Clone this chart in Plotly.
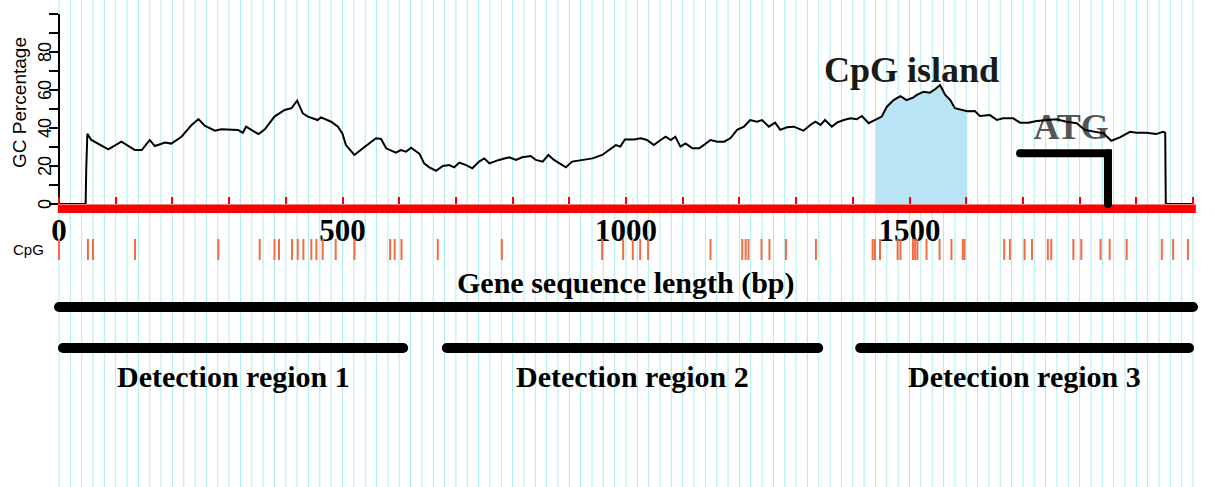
import plotly.graph_objects as go

# ---------------- data ----------------
gene_length = 2000

gc_pos = [0, 47, 48, 50, 57, 69, 87, 110, 134, 146, 160, 169, 187, 198, 216, 234, 246, 257, 275, 286,
          316, 324, 330, 345, 352, 363, 380, 398, 410, 420, 430, 439, 456, 462, 480, 492, 500, 506, 521, 536,
          548, 559, 568, 577, 594, 603, 612, 621, 636, 644, 653, 665, 677, 688, 697, 706, 718, 729, 741, 750,
          759, 776, 794, 806, 817, 832, 841, 853, 863, 873, 885, 894, 905, 923, 941, 958, 970, 982, 990, 998,
          1014, 1026, 1037, 1049, 1061, 1070, 1079, 1087, 1096, 1105, 1117, 1129, 1137, 1149, 1161, 1173, 1184, 1196, 1208, 1219,
          1231, 1240, 1252, 1263, 1272, 1284, 1296, 1313, 1325, 1334, 1343, 1351, 1363, 1372, 1384, 1396, 1407, 1416, 1428, 1441,
          1451, 1460, 1472, 1484, 1495, 1507, 1513, 1525, 1536, 1545, 1554, 1563, 1572, 1580, 1595, 1602, 1615, 1624, 1642, 1654,
          1665, 1683, 1695, 1710, 1724, 1742, 1759, 1777, 1795, 1809, 1824, 1842, 1856, 1871, 1889, 1900, 1918, 1935, 1947, 1951,
          1952, 2000]
gc_val = [0, 0, 18, 37, 33.7, 31.6, 28.8, 32.8, 28.4, 28.4, 33.7, 30.5, 32.3, 31.8, 35.4, 41.6, 44.7, 41.2, 38.6, 39.3,
          39, 37.5, 40.7, 38, 36.8, 39.3, 46, 49.5, 50.4, 54.4, 47.7, 46, 44.2, 45.6, 43.3, 40.7, 37, 31, 25.8, 29.3,
          31.9, 34.6, 34.2, 29.3, 27, 28.4, 27.5, 29.6, 26.3, 21.4, 19.3, 17.5, 20, 20.5, 19.3, 21.8, 20.5, 18.8, 22.3, 24,
          21.4, 23.2, 24.6, 23.2, 24.6, 25.3, 23.2, 22.3, 25.8, 23.2, 21, 19.3, 22.3, 23.2, 24, 25.8, 28.4, 31, 30.2, 34,
          34, 34.6, 33.7, 31, 33.7, 35.4, 33.7, 35.4, 30.2, 31.9, 29.3, 29.3, 31, 33.7, 32.8, 32.8, 34.6, 39, 40.7, 44.2,
          43.3, 44.2, 40.7, 42.8, 39, 40.4, 40.7, 38.6, 41.6, 43.3, 41.6, 44.2, 40.7, 42.8, 44.2, 45.1, 44.6, 46.3, 42.5, 44.6,
          46, 51.2, 54.7, 56.8, 54.7, 56.1, 57.4, 59.1, 58.6, 60.4, 62.6, 57.4, 54.7, 50.4, 49.5, 48.8, 49, 46.3, 46.8, 44.2,
          45.1, 45.1, 42.8, 42.8, 43.7, 44.2, 44.6, 43.3, 42.5, 39, 38, 37.2, 33.3, 35.1, 38, 37.5, 37.5, 36.8, 38, 37.5,
          0, 0]

cpg_island = [1441, 1602]
atg_pos = 1850

cpg_sites = [0, 51, 60, 134, 281, 354, 380, 388, 411, 421, 431, 445, 454, 465, 488, 521, 584, 592, 604, 668,
             781, 958, 995, 1012, 1025, 1039, 1149, 1205, 1211, 1216, 1239, 1253, 1282, 1335, 1435, 1439, 1448,
             1479, 1484, 1506, 1510, 1514, 1530, 1553, 1574, 1594, 1597, 1667, 1677, 1703, 1716, 1744, 1750,
             1789, 1803, 1837, 1853, 1883, 1945, 1965, 1991]

region_names = ["Detection region 1", "Detection region 2", "Detection region 3"]
region_start = [7, 684, 1413]
region_end = [607, 1339, 1993]

x_tick_vals = [0, 100, 200, 300, 400, 500, 600, 700, 800, 900, 1000, 1100, 1200, 1300, 1400,
               1500, 1600, 1700, 1800, 1900, 2000]
x_tick_text = ["0", "", "", "", "", "500", "", "", "", "", "1000", "", "", "", "",
               "1500", "", "", "", "", "2000"]
y_tick_vals = [0, 10, 20, 30, 40, 50, 60, 70, 80, 90, 100]
y_label_vals = [0, 20, 40, 60, 80]
y_label_text = ["0", "20", "40", "60", "80"]
grid_step = 20

# ---------------- layout geometry ----------------
W, H = 1215, 487
ML, MR = 52, 14
PX0, PXS = 59.0, 0.567          # pixel of x = 0, pixels per bp
plot_w = W - ML - MR
x_range = [(ML - PX0) / PXS, (W - MR - PX0) / PXS]


def py(p):
    return 1 - p / H


def pxp(p):
    return (p - ML) / plot_w


SERIF = "Liberation Serif"
SANS = "Liberation Sans"

fig = go.Figure()

# CpG island shading
isl_x = [p for p in gc_pos if cpg_island[0] <= p <= cpg_island[1]]
isl_y = [v for p, v in zip(gc_pos, gc_val) if cpg_island[0] <= p <= cpg_island[1]]
fig.add_trace(go.Scatter(x=isl_x, y=isl_y, mode="lines", fill="tozeroy",
                         fillcolor="#b9e4f5", line=dict(width=0), hoverinfo="skip"))

# ATG label (under the curve)
fig.add_trace(go.Scatter(x=[atg_pos - 65], y=[38.9], mode="text", text=["ATG"],
                         textfont=dict(family=SERIF, size=36, color="#555555", weight="bold"),
                         cliponaxis=False))

# GC curve
fig.add_trace(go.Scatter(x=gc_pos, y=gc_val, mode="lines",
                         line=dict(color="black", width=2)))

# ATG arrow
atg_arm = 155
atg_h = 26.7
fig.add_trace(go.Scatter(x=[atg_pos - atg_arm, atg_pos, atg_pos], y=[atg_h, atg_h, 0],
                         mode="lines+markers", line=dict(color="black", width=8),
                         marker=dict(color="black", size=8), cliponaxis=False))

# CpG sites
fig.add_trace(go.Scatter(x=cpg_sites, y=[0.5] * len(cpg_sites), yaxis="y3", mode="markers",
                         marker=dict(symbol="line-ns", size=15,
                                     line=dict(color="#f26b43", width=2)),
                         cliponaxis=False))

# gene bar
fig.add_trace(go.Scatter(x=[0, gene_length], y=[0, 0], yaxis="y4", mode="lines+markers",
                         line=dict(color="black", width=10), marker=dict(color="black", size=10),
                         cliponaxis=False))
# detection region bars
for s, e in zip(region_start, region_end):
    fig.add_trace(go.Scatter(x=[s, e], y=[1, 1], yaxis="y4", mode="lines+markers",
                             line=dict(color="black", width=10), marker=dict(color="black", size=10),
                             cliponaxis=False))

# grid lines (full height) and red bar
shapes = []
g = 0
while g <= gene_length:
    shapes.append(dict(type="line", xref="x", yref="paper", x0=g, x1=g, y0=0, y1=1,
                       line=dict(color="#a8eef0", width=1), layer="below"))
    g += grid_step
shapes.append(dict(type="rect", xref="x", yref="paper", x0=-2, x1=gene_length + 5,
                   y0=py(213), y1=py(204.5), fillcolor="#ff0000", line=dict(width=0), layer="below"))

annotations = [
    dict(text="CpG island", x=1504, y=70.5, xref="x", yref="y", showarrow=False,
         font=dict(family=SERIF, size=36, color="#1a1a1a", weight="bold")),
    dict(text="Gene sequence length (bp)", x=1000, y=py(283), xref="x", yref="paper",
         showarrow=False, yanchor="middle",
         font=dict(family=SERIF, size=30, color="black", weight="bold")),
    dict(text="CpG", x=pxp(46), y=py(250), xref="paper", yref="paper", xanchor="right",
         yanchor="middle", showarrow=False, font=dict(family=SANS, size=15, color="black")),
    dict(text="GC Percentage", x=pxp(20), y=py(103), xref="paper", yref="paper",
         xanchor="center", yanchor="middle", textangle=-90, showarrow=False,
         font=dict(family=SANS, size=19, color="black")),
]
for v, t in zip(y_label_vals, y_label_text):
    annotations.append(dict(text=t, x=pxp(45), y=v, xref="paper", yref="y", textangle=-90,
                            xanchor="center", yanchor="middle", showarrow=False,
                            font=dict(family=SANS, size=18, color="black")))
for name, s, e in zip(region_names, region_start, region_end):
    annotations.append(dict(text=name, x=(s + e) / 2, y=py(376), xref="x", yref="paper",
                            showarrow=False, yanchor="middle",
                            font=dict(family=SERIF, size=30, color="black", weight="bold")))

fig.update_layout(
    template="none",
    width=W, height=H,
    margin=dict(l=ML, r=MR, t=0, b=0, pad=0),
    paper_bgcolor="white", plot_bgcolor="rgba(0,0,0,0)",
    showlegend=False,
    font=dict(family=SANS, color="black"),
    xaxis=dict(domain=[0, 1], range=x_range, anchor="y", showgrid=False, zeroline=False,
               showline=False, ticks="inside", ticklen=7, tickwidth=2, tickcolor="#ff0000",
               tickvals=x_tick_vals, ticktext=x_tick_text, automargin=False,
               tickfont=dict(family=SERIF, size=31, color="black", weight="bold"),
               ticklabelstandoff=5),
    yaxis=dict(domain=[py(204), py(14)], range=[0, 100], anchor="free", position=pxp(59),
               showgrid=False, zeroline=False, showline=True, linecolor="black", linewidth=2,
               ticks="outside", ticklen=9, tickwidth=2, tickcolor="black",
               tickvals=y_tick_vals, showticklabels=False, automargin=False),
    yaxis3=dict(domain=[py(257), py(242)], range=[0, 1], visible=False, anchor="x"),
    yaxis4=dict(domain=[py(358), py(297)], range=[1.244, -0.244], visible=False, anchor="x"),
    shapes=shapes,
    annotations=annotations,
)

fig.write_html("out.html")
